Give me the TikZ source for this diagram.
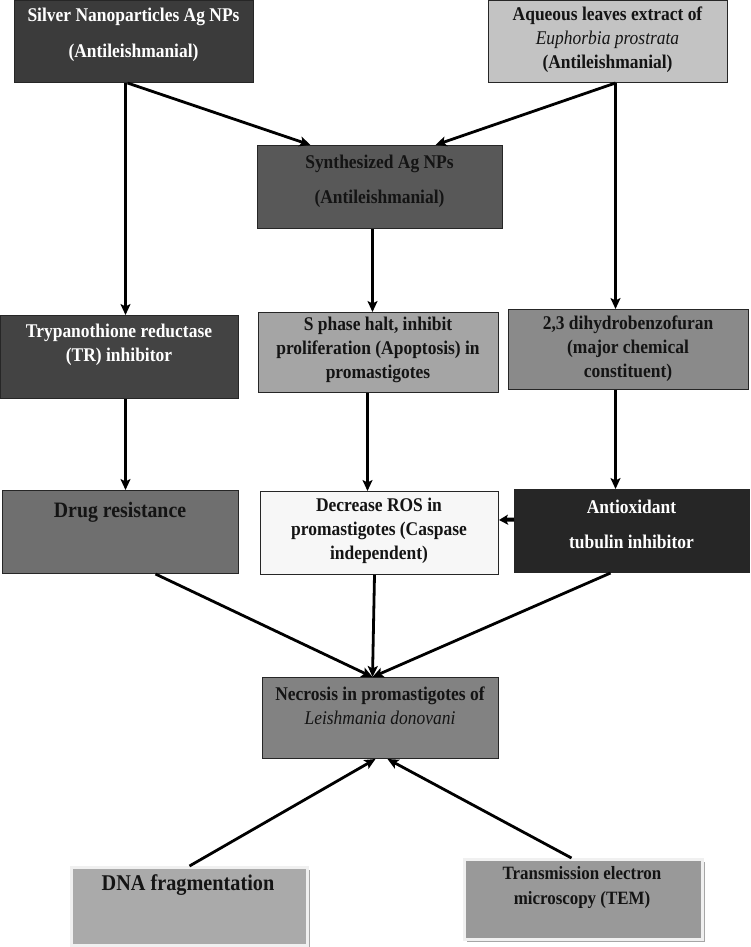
\documentclass[tikz,border=0pt]{standalone}
\usepackage{fontspec}
\setmainfont{Liberation Serif}[FakeStretch=0.9]
\usetikzlibrary{arrows.meta,shadows}
\definecolor{cSilver}{HTML}{3B3B3B}
\definecolor{cAque}{HTML}{C3C3C3}
\definecolor{cSynth}{HTML}{585858}
\definecolor{cTryp}{HTML}{434343}
\definecolor{cSph}{HTML}{A5A5A5}
\definecolor{cDih}{HTML}{8A8A8A}
\definecolor{cDrug}{HTML}{6F6F6F}
\definecolor{cRos}{HTML}{F7F7F7}
\definecolor{cAnti}{HTML}{262626}
\definecolor{cNec}{HTML}{828282}
\definecolor{cDna}{HTML}{AAAAAA}
\definecolor{cTem}{HTML}{999999}
\definecolor{cText}{HTML}{141414}
\tikzset{
  box/.style={draw=black!85, line width=1pt, anchor=north west, inner sep=0pt},
  softbox/.style={draw=black!6, line width=3pt, anchor=north west, inner sep=0pt,
     drop shadow={shadow xshift=2pt, shadow yshift=-2pt, fill=black!35, opacity=1}},
  lbl/.style={font=\bfseries\fontsize{19.4}{24}\selectfont, align=center, inner sep=0pt, text=cText},
  wlbl/.style={lbl, text=white},
  arr/.style={line width=2.8pt, -{Stealth[length=11pt,width=10pt,inset=2.5pt]}}
}
\begin{document}
\begin{tikzpicture}[x=1pt,y=-1pt]
\useasboundingbox (0,0) rectangle (750,947);
% boxes
\node[box, fill=cSilver, minimum width=239pt, minimum height=82pt] (silver) at (14,0) {};
\node[box, fill=cAque, minimum width=239pt, minimum height=82pt] (aque) at (488,0) {};
\node[box, fill=cSynth, minimum width=245pt, minimum height=83pt] (synth) at (257,145) {};
\node[box, fill=cTryp, minimum width=238pt, minimum height=83pt] (tryp) at (0,315) {};
\node[box, fill=cSph, minimum width=240pt, minimum height=80pt] (sph) at (258,312) {};
\node[box, fill=cDih, minimum width=240pt, minimum height=80pt] (dih) at (508,309) {};
\node[box, fill=cDrug, minimum width=236pt, minimum height=83pt] (drug) at (2,490) {};
\node[box, fill=cRos, minimum width=238pt, minimum height=83pt] (ros) at (260,491) {};
\node[box, fill=cAnti, minimum width=235pt, minimum height=83pt] (anti) at (514,489) {};
\node[box, fill=cNec, minimum width=236pt, minimum height=81pt] (nec) at (262,677) {};
\node[softbox, fill=cDna, minimum width=236pt, minimum height=78pt] (dna) at (70,866) {};
\node[softbox, fill=cTem, minimum width=238pt, minimum height=80pt] (tem) at (463,858) {};
% texts
\node[wlbl] (silver-t) at (133.5,35) {Silver Nanoparticles Ag NPs\\[12pt](Antileishmanial)};
\node[lbl] (aque-t) at (607.5,40) {Aqueous leaves extract of\\{\mdseries\itshape Euphorbia prostrata}\\(Antileishmanial)};
\node[lbl] (synth-t) at (379.5,181) {Synthesized Ag NPs\\[11pt](Antileishmanial)};
\node[wlbl] (tryp-t) at (119,345) {Trypanothione reductase\\(TR) inhibitor};
\node[lbl] (sph-t) at (378,350) {S phase halt, inhibit\\proliferation (Apoptosis) in\\promastigotes};
\node[lbl] (dih-t) at (628,348.5) {2,3 dihydrobenzofuran\\(major chemical\\constituent)};
\node[lbl, font=\bfseries\fontsize{22}{24}\selectfont] (drug-t) at (120,512) {Drug resistance};
\node[lbl] (ros-t) at (379,531) {Decrease ROS in\\promastigotes (Caspase\\independent)};
\node[wlbl] (anti-t) at (631.5,524) {Antioxidant\\[11pt]tubulin inhibitor};
\node[lbl] (nec-t) at (380,706) {Necrosis in promastigotes of\\{\mdseries\itshape Leishmania donovani}};
\node[lbl, font=\bfseries\fontsize{22.5}{24}\selectfont] (dna-t) at (188,885) {DNA fragmentation};
\node[lbl, font=\bfseries\fontsize{18.8}{25}\selectfont] (tem-t) at (582,887.5) {Transmission electron\\microscopy (TEM)};
% connectors
\draw[arr] ([xshift=-8.5pt]silver.south) -- ([xshift=6pt]tryp.north);
\draw[arr] ([xshift=-6.5pt]silver.south) -- ([xshift=-69.5pt]synth.north);
\draw[arr] ([xshift=7.5pt]aque.south) -- ([xshift=55.5pt]synth.north);
\draw[arr, line width=3.6pt] ([xshift=7.5pt]aque.south) -- ([xshift=-13pt]dih.north);
\draw[arr] ([xshift=-7.5pt]synth.south) -- ([xshift=-6pt]sph.north);
\draw[arr] ([xshift=6pt]tryp.south) -- ([xshift=5pt]drug.north);
\draw[arr] ([xshift=-11pt]sph.south) -- ([xshift=-12pt]ros.north);
\draw[arr] ([xshift=-13pt]dih.south) -- ([xshift=-16.5pt]anti.north);
\draw[line width=4pt, -{Stealth[length=9pt,width=10pt,inset=2pt]}] ([yshift=11.5pt]anti.west) -- ([yshift=13pt]ros.east);
\draw[arr] ([xshift=35pt]drug.south) -- ([xshift=-8pt]nec.north);
\draw[arr] ([xshift=-5pt]ros.south) -- ([xshift=-8pt]nec.north);
\draw[arr] ([xshift=-21.5pt]anti.south) -- ([xshift=-8pt]nec.north);
\draw[arr] ([xshift=0pt]dna.north) -- ([xshift=-5pt]nec.south);
\draw[arr] ([xshift=-12pt]tem.north) -- ([xshift=7pt]nec.south);
\end{tikzpicture}
\end{document}
